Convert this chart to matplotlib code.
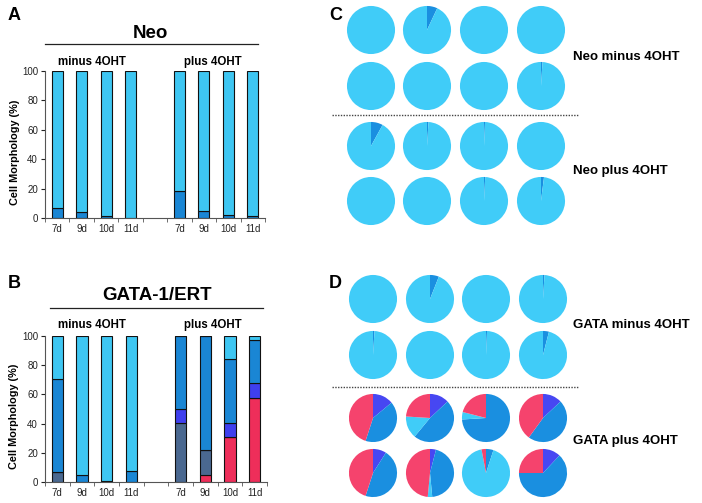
import numpy as np
import matplotlib
matplotlib.use("Agg")
import matplotlib.pyplot as plt

plt.rcParams['font.family'] = ['Liberation Sans', 'DejaVu Sans']

W, H = 702, 503

# %%
# bar chart data (percent of cells), 7d 9d 10d 11d minus 4OHT then plus 4OHT
days = ['7d', '9d', '10d', '11d']
xpos = [0, 1, 2, 3, 5, 6, 7, 8]

neo_medium = [6.8, 4.0, 1.1, 0.3, 18.5, 4.5, 2.3, 1.1]
neo_light = [93.2, 96.0, 98.9, 99.7, 81.5, 95.5, 97.7, 98.9]

gata_red = [0, 0, 0, 0, 0, 4.5, 31.0, 57.7]
gata_slate = [6.8, 0, 0, 0, 40.2, 17.1, 0, 0]
gata_violet = [0, 0, 0, 0, 9.8, 0, 9.5, 9.8]
gata_medium = [63.7, 4.5, 1.0, 7.3, 50.0, 78.4, 44.0, 30.0]
gata_light = [29.5, 95.5, 99.0, 92.7, 0, 0, 15.5, 2.5]

# pie data: percent of medium blue wedge (rest light blue), 8 pies per condition
neo_minus_pies = [0, 7, 0, 0, 0, 0, 0, 1]
neo_plus_pies = [8, 1, 0.7, 0, 0, 0, 0.8, 2]
gata_minus_pies = [0, 6, 0, 1, 1, 0, 0.7, 4]
# GATA plus 4OHT pies: [violet, medium, light, red]
gata_plus_pies = [[14, 41, 0, 45], [13, 48, 15, 24], [0, 74, 5, 21], [13, 47, 0, 40],
                  [9, 46, 0, 45], [4, 44.5, 3, 48.5], [0, 5, 92, 3], [12, 63, 0, 25]]

# colours
c_light = '#3ec6f2'
c_medium = '#1a86d4'
c_slate = '#4a6890'
c_violet = '#3f3fee'
c_red = '#ee2e5a'
p_light = '#40ccf8'
p_medium = '#1a8fe0'
p_violet = '#4747f2'
p_red = '#f5436d'

fig = plt.figure(figsize=(W / 100, H / 100), dpi=100)


def px(x, y):
    return x / W, 1 - y / H


def bar_axes(left, top, right, bottom, series, colors):
    ax = fig.add_axes([left / W, 1 - bottom / H, (right - left) / W, (bottom - top) / H])
    base = np.zeros(len(xpos))
    for vals, col in zip(series, colors):
        ax.bar(xpos, vals, bottom=base, width=0.45, color=col,
               edgecolor='#111111', linewidth=0.8)
        base = base + np.array(vals)
    ax.set_xlim(-0.5, 8.5)
    ax.set_ylim(0, 100)
    ax.set_yticks([0, 20, 40, 60, 80, 100])
    ax.set_xticks(xpos)
    ax.set_xticklabels(days + days)
    ax.set_xticks(np.arange(-0.5, 9, 1), minor=True)
    ax.tick_params(axis='x', which='major', length=0, labelsize=7, colors='#222222', pad=4)
    ax.tick_params(axis='x', which='minor', length=3, color='#555555')
    ax.tick_params(axis='y', length=3, labelsize=7, colors='#222222', pad=2)
    for s in ['top', 'right']:
        ax.spines[s].set_visible(False)
    for s in ['left', 'bottom']:
        ax.spines[s].set_color('#555555')
        ax.spines[s].set_linewidth(0.8)
    ax.set_ylabel('Cell Morphology (%)', fontsize=7.8, fontweight='bold', labelpad=3)
    ax.yaxis.set_label_coords(-0.115, 0.45)
    return ax


# panel A
bar_axes(45, 71, 265, 218, [neo_medium, neo_light], [c_medium, c_light])
# panel B
bar_axes(45, 336, 267, 482,
         [gata_red, gata_slate, gata_violet, gata_medium, gata_light],
         [c_red, c_slate, c_violet, c_medium, c_light])

# headers
fig.text(*px(150, 33), 'Neo', fontsize=13.5, fontweight='bold', ha='center', va='center')
fig.add_artist(plt.Line2D([45 / W, 258 / W], [1 - 44 / H, 1 - 44 / H], color='#222222', lw=0.9))
fig.text(*px(92, 62), 'minus 4OHT', fontsize=8.3, fontweight='bold', ha='center', va='center')
fig.text(*px(213, 62), 'plus 4OHT', fontsize=8.3, fontweight='bold', ha='center', va='center')

fig.text(*px(157, 296), 'GATA-1/ERT', fontsize=13.5, fontweight='bold', ha='center', va='center')
fig.add_artist(plt.Line2D([50 / W, 263 / W], [1 - 308 / H, 1 - 308 / H], color='#222222', lw=0.9))
fig.text(*px(92, 325), 'minus 4OHT', fontsize=8.3, fontweight='bold', ha='center', va='center')
fig.text(*px(213, 325), 'plus 4OHT', fontsize=8.3, fontweight='bold', ha='center', va='center')

# panel letters
for lab, x, y in [('A', 14, 15), ('B', 14, 283), ('C', 336, 15), ('D', 335, 283)]:
    fig.text(*px(x, y), lab, fontsize=13, fontweight='bold', ha='center', va='center')


# %%
# pies
def pie_at(cx, cy, vals, cols):
    ax = fig.add_axes([(cx - 25) / W, 1 - (cy + 25) / H, 50 / W, 50 / H])
    ax.pie(vals, colors=cols, startangle=90, counterclock=False, radius=1,
           wedgeprops=dict(linewidth=0))
    ax.set_xlim(-1.04, 1.04)
    ax.set_ylim(-1.04, 1.04)
    ax.set_aspect('equal')
    ax.axis('off')


c_cols = [371, 427, 484, 541]
c_rows = [30, 86, 146, 201]
d_cols = [373, 430, 486, 543]
d_rows = [299, 355, 418, 473]

for i, v in enumerate(neo_minus_pies + neo_plus_pies):
    pie_at(c_cols[i % 4], c_rows[i // 4], [v, 100 - v], [p_medium, p_light])
for i, v in enumerate(gata_minus_pies):
    pie_at(d_cols[i % 4], d_rows[i // 4], [v, 100 - v], [p_medium, p_light])
for i, v in enumerate(gata_plus_pies):
    pie_at(d_cols[i % 4], d_rows[2 + i // 4], v, [p_violet, p_medium, p_light, p_red])

# dotted separators
for y in [115, 387]:
    fig.add_artist(plt.Line2D([332 / W, 578 / W], [1 - y / H, 1 - y / H],
                              color='#444444', lw=1, linestyle=(0, (1, 1))))

fig.text(*px(573, 57), 'Neo minus 4OHT', fontsize=9.5, fontweight='bold', va='center')
fig.text(*px(573, 171), 'Neo plus 4OHT', fontsize=9.5, fontweight='bold', va='center')
fig.text(*px(573, 325), 'GATA minus 4OHT', fontsize=9.5, fontweight='bold', va='center')
fig.text(*px(573, 441), 'GATA plus 4OHT', fontsize=9.5, fontweight='bold', va='center')

fig.savefig('out.png', dpi=100, facecolor='white')
